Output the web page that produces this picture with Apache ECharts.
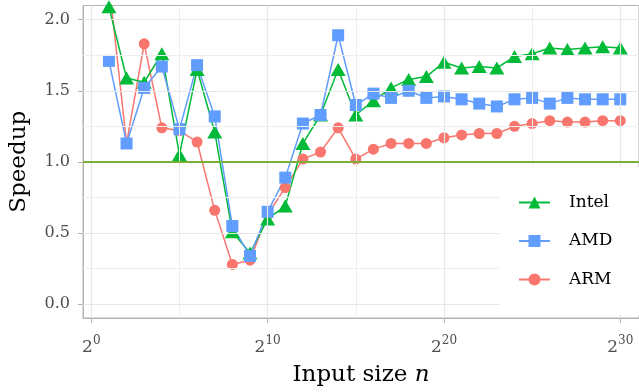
<!DOCTYPE html>
<html>
<head>
<meta charset="utf-8">
<script src="https://cdn.jsdelivr.net/npm/echarts@6/dist/echarts.min.js"></script>
<style>
  html, body { margin: 0; padding: 0; background: #fff; }
  #chart { width: 639px; height: 392px; }
</style>
</head>
<body>
<div id="chart"></div>
<script>
// input size exponents (n = 2^k)
const exps = [1, 2, 3, 4, 5, 6, 7, 8, 9, 10, 11, 12, 13, 14, 15, 16, 17, 18, 19, 20, 21, 22, 23, 24, 25, 26, 27, 28, 29, 30];

const intel = [2.09, 1.59, 1.56, 1.76, 1.05, 1.65, 1.21, 0.51, 0.36, 0.60, 0.69, 1.13, 1.33, 1.65, 1.33, 1.43, 1.52, 1.58, 1.60, 1.70, 1.66, 1.67, 1.66, 1.74, 1.76, 1.80, 1.79, 1.80, 1.81, 1.80];
const amd = [1.71, 1.13, 1.52, 1.67, 1.23, 1.68, 1.32, 0.55, 0.34, 0.65, 0.89, 1.27, 1.33, 1.89, 1.40, 1.48, 1.45, 1.50, 1.45, 1.46, 1.44, 1.41, 1.39, 1.44, 1.45, 1.41, 1.45, 1.44, 1.44, 1.44];
const arm = [2.26, 1.13, 1.83, 1.24, 1.22, 1.14, 0.66, 0.28, 0.31, 0.63, 0.82, 1.02, 1.07, 1.24, 1.02, 1.09, 1.13, 1.13, 1.13, 1.17, 1.19, 1.20, 1.20, 1.25, 1.27, 1.29, 1.28, 1.28, 1.29, 1.29];

const xMajor = [0, 10, 20, 30];
const xMinor = [5, 15, 25];
const yMajor = [0, 0.5, 1, 1.5, 2];
const yMinor = [0.25, 0.75, 1.25, 1.75];
const baseline = 1;

const FONT = 'DejaVu Serif';
const TICK = '#4d4d4d';

const pairs = (vals) => exps.map((k, i) => [k, vals[i]]);

const major = { color: '#e6e6e6', width: 1.2, type: 'solid' };
const minor = { color: '#eeeeee', width: 1, type: 'solid' };
const gridLines = [
  ...xMajor.map((v) => ({ xAxis: v, lineStyle: major })),
  ...xMinor.map((v) => ({ xAxis: v, lineStyle: minor })),
  ...yMajor.map((v) => ({ yAxis: v, lineStyle: major })),
  ...yMinor.map((v) => ({ yAxis: v, lineStyle: minor })),
  { yAxis: baseline, lineStyle: { color: '#7cae3a', width: 2, type: 'solid' } },
];

const mkSeries = (name, vals, color, symbol, size) => ({
  name: name,
  type: 'line',
  data: pairs(vals),
  symbol: symbol,
  symbolSize: size,
  itemStyle: { color: color },
  lineStyle: { color: color, width: 1.5 },
  z: 3,
});

// powers of two: base on one axis, raised exponent on a twin axis
const powerLabel = (margin, baseColor, expColor) => ({
  customValues: xMajor,
  margin: margin,
  formatter: (v) => '{b|2}{s|' + v + '}',
  rich: {
    b: { fontFamily: FONT, fontSize: 17, color: baseColor },
    s: { fontFamily: FONT, fontSize: 12, color: expColor },
  },
});

const chart = echarts.init(document.getElementById('chart'));
chart.setOption({
  animation: false,
  grid: {
    left: 82, right: -1, top: 5.5, bottom: 74,
    show: true, borderColor: '#b3b3b3', borderWidth: 1, backgroundColor: 'transparent',
  },
  xAxis: [
    {
      type: 'value',
      min: -0.47,
      max: 31.06,
      splitLine: { show: false },
      axisLine: { show: true, onZero: false, lineStyle: { color: '#b3b3b3' } },
      axisTick: { show: true, customValues: xMajor, length: 5, lineStyle: { color: '#b3b3b3' } },
      axisLabel: powerLabel(21, TICK, 'rgba(0,0,0,0)'),
      name: '{a|Input size }{i|n}',
      nameLocation: 'middle',
      nameGap: 46,
      nameTextStyle: {
        rich: {
          a: { fontFamily: FONT, fontSize: 23, color: '#000' },
          i: { fontFamily: FONT, fontSize: 23, color: '#000', fontStyle: 'italic' },
        },
      },
    },
    {
      type: 'value',
      position: 'bottom',
      min: -0.47,
      max: 31.06,
      splitLine: { show: false },
      axisLine: { show: false },
      axisTick: { show: false },
      axisLabel: powerLabel(14, 'rgba(0,0,0,0)', TICK),
    },
  ],
  yAxis: {
    type: 'value',
    min: -0.096,
    max: 2.099,
    splitLine: { show: false },
    axisLine: { show: true, onZero: false, lineStyle: { color: '#b3b3b3' } },
    axisTick: { show: true, customValues: yMajor, length: 5, lineStyle: { color: '#b3b3b3' } },
    axisLabel: {
      customValues: yMajor,
      margin: 13,
      fontFamily: FONT,
      fontSize: 16,
      color: TICK,
      formatter: (v) => v.toFixed(1),
    },
    name: 'Speedup',
    nameLocation: 'middle',
    nameGap: 52,
    nameTextStyle: { fontFamily: FONT, fontSize: 23, color: '#000' },
  },
  legend: {
    data: ['Intel', 'AMD', 'ARM'],
    orient: 'vertical',
    left: 500,
    top: 167,
    padding: [27, 28, 27, 18],
    itemWidth: 31,
    itemHeight: 15,
    itemGap: 21.5,
    backgroundColor: '#ffffff',
    z: 10,
    textStyle: { fontFamily: FONT, fontSize: 17, color: '#000', padding: [0, 0, 0, 14] },
  },
  series: [
    {
      name: 'grid',
      type: 'line',
      data: [],
      silent: true,
      z: 1,
      markLine: {
        silent: true,
        symbol: ['none', 'none'],
        label: { show: false },
        emphasis: { disabled: true },
        data: gridLines,
      },
    },
    mkSeries('ARM', arm, '#F8766D', 'circle', 11),
    mkSeries('Intel', intel, '#00BA38', 'triangle', [15, 13]),
    mkSeries('AMD', amd, '#619CFF', 'rect', 12),
  ],
});
</script>
</body>
</html>
